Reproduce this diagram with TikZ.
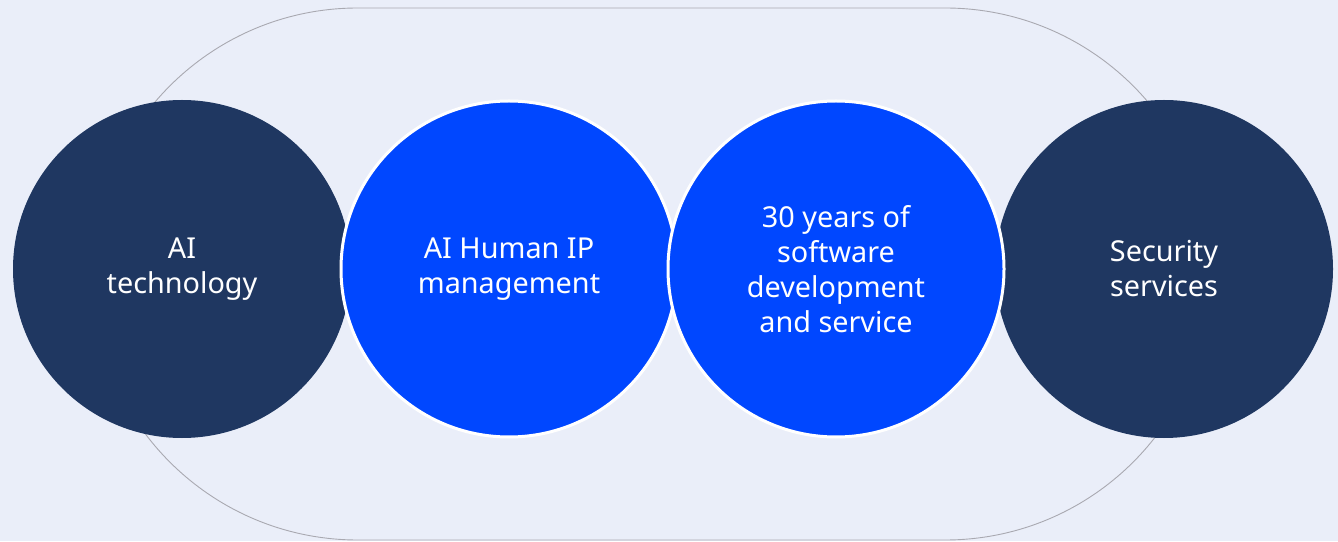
\documentclass[tikz,border=0pt]{standalone}
\usepackage{fontspec}
\setmainfont{Noto Sans}
\definecolor{bgcol}{HTML}{EAEEF9}
\definecolor{navy}{HTML}{1F3761}
\definecolor{vivid}{HTML}{0047FF}
\definecolor{ringline}{HTML}{A9A9B1}
\begin{document}
\begin{tikzpicture}[x=1pt,y=1pt,
  lbl/.style={text=white,align=center,font=\fontsize{28.8}{35}\selectfont},
  darkc/.style={circle,fill=navy,minimum size=338pt,inner sep=0pt,lbl},
  bluec/.style={circle,fill=vivid,draw=white,line width=3pt,minimum size=336pt,inner sep=0pt,lbl}]
\fill[bgcol] (0,0) rectangle (1338,541);
\useasboundingbox (0,0) rectangle (1338,541);
\draw[ringline,line width=0.9pt,rounded corners=265.9pt] (92,1) rectangle (1211,533);
\node[darkc] (ai) at (182,272) {AI\\technology};
\node[darkc] (sec) at (1164,272) {Security\\services};
\node[bluec] (hip) at (509,272) {AI Human IP\\management};
\node[bluec] (soft) at (836,272) {30 years of\\software\\development\\and service};
\end{tikzpicture}
\end{document}
